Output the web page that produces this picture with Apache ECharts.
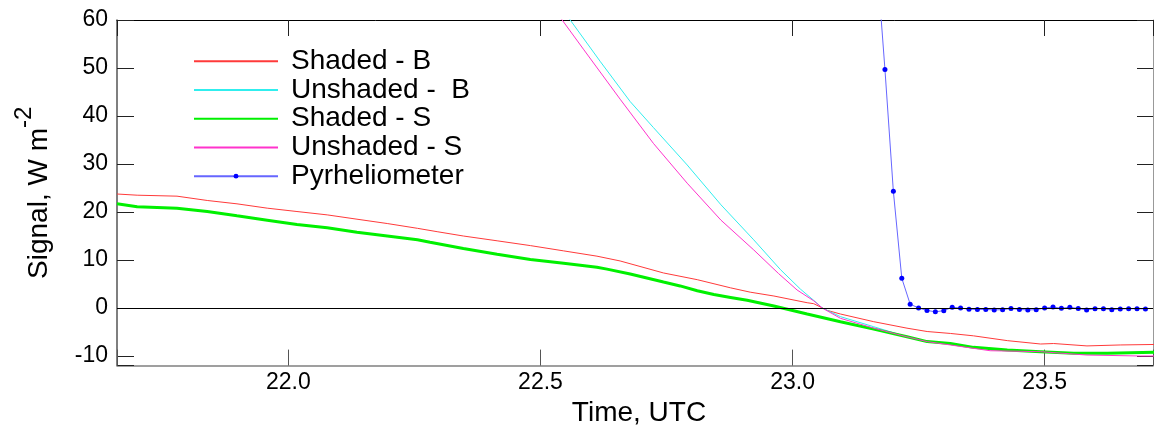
<!DOCTYPE html>
<html><head><meta charset="utf-8">
<script src="https://cdn.jsdelivr.net/npm/echarts@6/dist/echarts.min.js"></script>
<style>html,body{margin:0;padding:0;background:#fff}#c{width:1154px;height:428px}</style>
</head><body><div id="c"></div>
<script>
// ---- data (hours UTC, W m-2) ----
const shadedBTime = [21.660,21.700,21.779,21.839,21.898,21.958,22.017,22.077,22.136,22.196,22.256,22.295,22.347,22.414,22.480,22.546,22.612,22.658,22.744,22.811,22.877,22.916,22.963,23.029,23.042,23.069,23.095,23.161,23.227,23.267,23.313,23.359,23.426,23.492,23.518,23.584,23.650,23.717];
const shadedBValue = [23.75,23.5,23.3,22.4,21.7,20.8,20.1,19.4,18.5,17.6,16.6,15.9,15.0,14.0,13.0,11.9,10.8,9.8,7.3,5.9,4.2,3.3,2.5,1.1,0.9,-0.5,-1.25,-2.85,-4.2,-4.9,-5.3,-5.8,-6.8,-7.5,-7.4,-7.9,-7.7,-7.6];

const unshadedBTime = [22.500,22.559,22.619,22.678,22.724,22.791,22.858,22.923,22.976,23.016,23.042,23.059,23.095,23.161,23.227,23.267,23.313,23.359,23.426,23.492,23.558,23.624,23.717];
const unshadedBValue = [68.5,60.0,51.3,43.0,37.6,29.8,21.5,14.2,8.0,3.9,1.6,0.0,-1.8,-3.9,-6.0,-7.0,-7.5,-8.1,-8.8,-9.1,-9.5,-9.5,-9.3];

const shadedSTime = [21.660,21.700,21.779,21.839,21.898,21.958,22.017,22.077,22.136,22.196,22.256,22.281,22.347,22.414,22.480,22.546,22.612,22.632,22.678,22.744,22.777,22.811,22.844,22.877,22.910,22.963,23.029,23.095,23.161,23.227,23.267,23.313,23.359,23.426,23.492,23.558,23.624,23.717];
const shadedSValue = [21.7,21.1,20.8,20.1,19.2,18.3,17.4,16.7,15.8,15.0,14.2,13.7,12.4,11.2,10.1,9.3,8.5,8.1,7.1,5.4,4.6,3.6,2.8,2.2,1.6,0.4,-1.25,-2.85,-4.4,-6.0,-7.0,-7.4,-8.2,-8.75,-9.1,-9.45,-9.45,-9.2];

const unshadedSTime = [22.500,22.543,22.586,22.658,22.724,22.791,22.858,22.923,22.972,23.009,23.042,23.059,23.095,23.161,23.227,23.267,23.313,23.392,23.492,23.584,23.690,23.717];
const unshadedSValue = [66.5,60.0,53.8,43.5,34.3,26.0,18.3,12.1,7.2,3.75,1.5,0.0,-2.15,-4.2,-6.0,-7.0,-7.7,-8.9,-9.1,-9.8,-10.0,-10.0];

const pyrTime = [23.1667,23.1833,23.2000,23.2167,23.2333,23.2500,23.2667,23.2833,23.3000,23.3167,23.3333,23.3500,23.3667,23.3833,23.4000,23.4167,23.4333,23.4500,23.4667,23.4833,23.5000,23.5167,23.5333,23.5500,23.5667,23.5833,23.6000,23.6167,23.6333,23.6500,23.6667,23.6833,23.7000];
const pyrValue = [73,49.7,24.3,6.2,0.8,0.0,-0.5,-0.8,-0.55,0.15,0.0,-0.25,-0.3,-0.3,-0.4,-0.35,-0.1,-0.3,-0.4,-0.35,0.0,0.2,-0.05,0.15,-0.1,-0.4,-0.15,-0.15,-0.35,-0.2,-0.15,-0.15,-0.2];

const seriesNames = ['Shaded - B','Unshaded -  B','Shaded - S','Unshaded - S','Pyrheliometer'];
const xLabelTicks = [22.0,22.5,23.0,23.5];
const yLabelTicks = [-10,0,10,20,30,40,50,60];

function zip(a,b){return a.map((v,i)=>[v,b[i]]);}

const FONT = '"Liberation Sans", Arial, sans-serif';
const chart = echarts.init(document.getElementById('c'), null, {renderer:'canvas'});

function xFmt(v){ return xLabelTicks.some(t=>Math.abs(t-v)<1e-6) ? v.toFixed(1) : ''; }
function yFmt(v){ return yLabelTicks.some(t=>Math.abs(t-v)<1e-6) ? String(Math.round(v)) : ''; }

const noDot = {color:'rgba(0,0,0,0)', borderWidth:0};

const option = {
  animation:false,
  backgroundColor:'#fff',
  textStyle:{fontFamily:FONT},
  grid:{left:117, top:20, width:1036, height:345.6, containLabel:false, outerBoundsMode:'none'},
  legend:{
    orient:'vertical', left:193, top:47, padding:0, itemWidth:84, itemHeight:6, itemGap:0,
    textStyle:{fontSize:28, color:'#000', fontFamily:FONT, lineHeight:28.7, padding:[0,0,0,8]},
    data:[
      {name:seriesNames[0], itemStyle:noDot},
      {name:seriesNames[1], itemStyle:noDot},
      {name:seriesNames[2], itemStyle:noDot},
      {name:seriesNames[3], itemStyle:noDot},
      {name:seriesNames[4]}
    ]
  },
  xAxis:[{
    type:'value', min:21.66, max:23.715, splitNumber:4, position:'bottom',
    axisLine:{onZero:false, lineStyle:{color:'#808080', width:1.5}},
    axisTick:{inside:true, length:16, lineStyle:{color:'#555'}},
    axisLabel:{fontSize:23, color:'#000', margin:6, fontFamily:FONT, formatter:xFmt},
    splitLine:{show:false},
    name:'Time, UTC', nameLocation:'middle', nameGap:21,
    nameTextStyle:{fontSize:28, color:'#000', fontFamily:FONT, padding:[0,0,0,8]}
  },{
    type:'value', min:21.66, max:23.715, splitNumber:4, position:'top',
    axisLine:{onZero:false, lineStyle:{color:'#000', width:1}},
    axisTick:{inside:true, length:16, lineStyle:{color:'#222'}},
    axisLabel:{show:false}, splitLine:{show:false}
  }],
  yAxis:[{
    type:'value', min:-12, max:60, splitNumber:7, position:'left',
    axisLine:{onZero:false, lineStyle:{color:'#555', width:1.5}},
    axisTick:{inside:true, length:17, lineStyle:{color:'#222'}},
    axisLabel:{fontSize:23, color:'#000', margin:9, fontFamily:FONT, formatter:yFmt},
    splitLine:{show:false},
    name:'{a|Signal, W m}{b|-2}', nameLocation:'middle', nameRotate:90, nameGap:51,
    nameTextStyle:{color:'#000', fontFamily:FONT, rich:{
      a:{fontSize:28, color:'#000', fontFamily:FONT},
      b:{fontSize:24, color:'#000', fontFamily:FONT, padding:[0,0,30,0]}
    }}
  },{
    type:'value', min:-12, max:60, splitNumber:7, position:'right',
    axisLine:{onZero:false, lineStyle:{color:'#999', width:1}},
    axisTick:{inside:true, length:16, lineStyle:{color:'#222'}},
    axisLabel:{show:false}, splitLine:{show:false}
  }],
  series:[
    {name:seriesNames[0], type:'line', data:zip(shadedBTime, shadedBValue), symbol:'none', clip:true,
     lineStyle:{color:'#ff3a3a', width:1}, itemStyle:{color:'#ff3a3a'},
     markLine:{silent:true, symbol:['none','none'], label:{show:false},
       lineStyle:{color:'#000', width:1, type:'solid'}, data:[{yAxis:0}]}},
    {name:seriesNames[1], type:'line', data:zip(unshadedBTime, unshadedBValue), symbol:'none', clip:true,
     lineStyle:{color:'#30eeee', width:1}, itemStyle:{color:'#30eeee'}},
    {name:seriesNames[2], type:'line', data:zip(shadedSTime, shadedSValue), symbol:'none', clip:true,
     lineStyle:{color:'#00f000', width:3}, itemStyle:{color:'#00f000'}},
    {name:seriesNames[3], type:'line', data:zip(unshadedSTime, unshadedSValue), symbol:'none', clip:true,
     lineStyle:{color:'#ff33cc', width:1}, itemStyle:{color:'#ff33cc'}},
    {name:seriesNames[4], type:'line', data:zip(pyrTime, pyrValue), symbol:'circle', symbolSize:5, showSymbol:true, clip:true,
     lineStyle:{color:'#6666ff', width:1}, itemStyle:{color:'#0000ff'}}
  ]
};
chart.setOption(option);
</script>
</body></html>
